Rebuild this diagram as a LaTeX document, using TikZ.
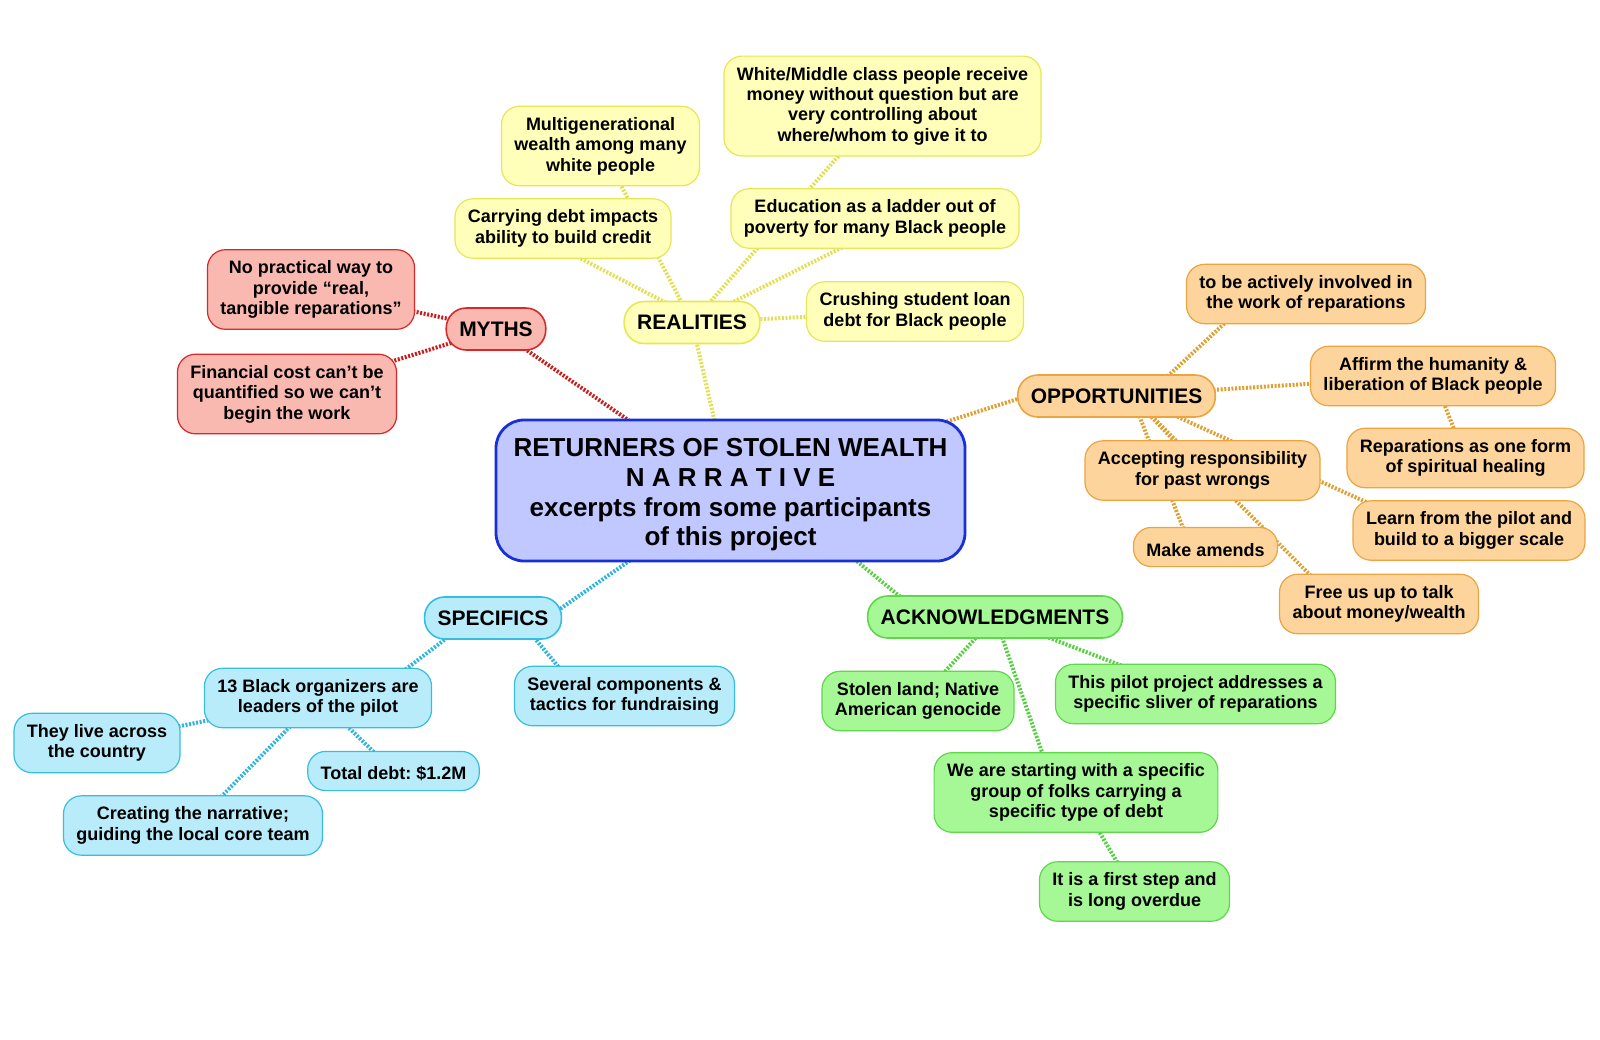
\documentclass[tikz,border=0pt]{standalone}
\usepackage{fontspec}
\setmainfont{Liberation Sans}
\usetikzlibrary{backgrounds}
\frenchspacing

\definecolor{cenfill}{HTML}{C0C8FF}
\definecolor{cenline}{HTML}{1830D8}
\definecolor{mythfill}{HTML}{F9B9B0}
\definecolor{mythline}{HTML}{D82828}
\definecolor{mythdot}{HTML}{C81E1E}
\definecolor{realfill}{HTML}{FFFFBA}
\definecolor{realline}{HTML}{E6E65A}
\definecolor{realdot}{HTML}{E2E050}
\definecolor{oppfill}{HTML}{FDD49C}
\definecolor{oppline}{HTML}{EBA440}
\definecolor{oppdot}{HTML}{E0A030}
\definecolor{ackfill}{HTML}{A6F896}
\definecolor{ackline}{HTML}{5ED84A}
\definecolor{ackdot}{HTML}{56D040}
\definecolor{specfill}{HTML}{B8ECFA}
\definecolor{specline}{HTML}{36BEE0}
\definecolor{specdot}{HTML}{2EB4DC}

\tikzset{
  idea/.style={draw, line width=1.2pt, rounded corners=18pt, align=center,
    inner xsep=13pt, inner ysep=0pt, minimum height={20.2*#1+19},
    font=\bfseries\fontsize{18}{20.4}\selectfont,
    execute at begin node={\rule{0pt}{19pt}}},
  idea/.default=2,
  topic/.style={draw, line width=1.6pt, rounded corners=20pt, inner xsep=13pt,
    inner ysep=0pt, minimum height=42, font=\bfseries\fontsize{21}{24}\selectfont},
  myth/.style={fill=mythfill, draw=mythline},
  real/.style={fill=realfill, draw=realline},
  opp/.style={fill=oppfill, draw=oppline},
  ack/.style={fill=ackfill, draw=ackline},
  spec/.style={fill=specfill, draw=specline},
  link/.style={line width=4pt, dash pattern=on 2pt off 1.6pt},
  mythlink/.style={link, draw=mythdot},
  reallink/.style={link, draw=realdot},
  opplink/.style={link, draw=oppdot},
  acklink/.style={link, draw=ackdot},
  speclink/.style={link, draw=specdot}
}

\begin{document}
\begin{tikzpicture}[x=1pt, y=-1pt]
  \useasboundingbox (0,0) rectangle (1600,1039);

  % centre
  \node[draw=cenline, fill=cenfill, line width=2.8pt, rounded corners=28pt,
    minimum width=469, minimum height=141, align=center,
    font=\bfseries\fontsize{26}{29.6}\selectfont] (cen) at (730.5,490.5)
    {\rule{0pt}{27pt}RETURNERS OF STOLEN WEALTH\\N A R R A T I V E\\excerpts from some participants\\of this project};

  % myths
  \node[topic, myth] (myths) at (496,329) {MYTHS};
  \node[idea=3, myth] (nopr) at (311,289.5) {No practical way to\\provide “real,\\tangible reparations”};
  \node[idea=3, myth] (fin) at (287,394) {Financial cost can’t be\\quantified so we can’t\\begin the work};

  % realities
  \node[topic, real] (rea) at (692,322.5) {REALITIES};
  \node[idea=2, real] (carry) at (563,228.5) {Carrying debt impacts\\ability to build credit};
  \node[idea=3, real] (multi) at (600.5,146) {Multigenerational\\wealth among many\\white people};
  \node[idea=4, real] (white) at (882.5,106) {White/Middle class people receive\\money without question but are\\very controlling about\\where/whom to give it to};
  \node[idea=2, real] (edu) at (875,218.5) {Education as a ladder out of\\poverty for many Black people};
  \node[idea=2, real] (crush) at (915,311.5) {Crushing student loan\\debt for Black people};

  % opportunities
  \node[topic, opp] (opps) at (1116.5,396) {OPPORTUNITIES};
  \node[idea=2, opp] (active) at (1306,294) {to be actively involved in\\the work of reparations};
  \node[idea=2, opp] (affirm) at (1433,376) {Affirm the humanity \&\\liberation of Black people};
  \node[idea=2, opp] (repar) at (1465.5,458) {Reparations as one form\\of spiritual healing};
  \node[idea=2, opp] (accept) at (1202.5,470.5) {Accepting responsibility\\for past wrongs};
  \node[idea=2, opp] (learn) at (1469,530.5) {Learn from the pilot and\\build to a bigger scale};
  \node[idea=1, opp] (amends) at (1205.5,547) {Make amends};
  \node[idea=2, opp] (free) at (1379,604) {Free us up to talk\\about money/wealth};

  % acknowledgments
  \node[topic, ack] (acks) at (995,617) {ACKNOWLEDGMENTS};
  \node[idea=2, ack] (stolen) at (918,701) {Stolen land; Native\\American genocide};
  \node[idea=2, ack] (pilot) at (1195.5,694) {This pilot project addresses a\\specific sliver of reparations};
  \node[idea=3, ack] (start) at (1076,792.5) {We are starting with a specific\\group of folks carrying a\\specific type of debt};
  \node[idea=2, ack] (first) at (1134.5,891.5) {It is a first step and\\is long overdue};

  % specifics
  \node[topic, spec] (specs) at (493,618) {SPECIFICS};
  \node[idea=2, spec] (organ) at (318,698) {13 Black organizers are\\leaders of the pilot};
  \node[idea=2, spec] (sev) at (624.5,696) {Several components \&\\tactics for fundraising};
  \node[idea=2, spec] (live) at (97,743) {They live across\\the country};
  \node[idea=1, spec] (debt) at (393.5,771) {Total debt: \$1.2M};
  \node[idea=2, spec] (narr) at (193,825.5) {Creating the narrative;\\guiding the local core team};

  % connectors
  \begin{scope}[on background layer]
    \draw[mythlink] (cen.center) -- (myths.center);
    \draw[mythlink] (myths.center) -- (nopr.center);
    \draw[mythlink] (myths.center) -- (fin.center);

    \draw[reallink] (cen.center) -- (rea.center);
    \draw[reallink] ([xshift=12pt]rea.center) -- ([xshift=-40pt]carry.center);
    \draw[reallink] (rea.center) -- (multi.center);
    \draw[reallink] (rea.center) -- (white.center);
    \draw[reallink] (rea.center) -- ([xshift=25pt]edu.center);
    \draw[reallink] (rea.center) -- (crush.center);

    \draw[opplink] (cen.center) -- ([xshift=10pt]opps.west);
    \draw[opplink] ([xshift=30pt]opps.center) -- ([xshift=-50pt]active.center);
    \draw[opplink] (opps.center) -- (affirm.center);
    \draw[opplink] (affirm.center) -- (repar.center);
    \draw[opplink] ([xshift=15pt]opps.center) -- (accept.center);
    \draw[opplink] ([xshift=15pt]opps.center) -- ([xshift=-15pt]amends.center);
    \draw[opplink] ([xshift=15pt]opps.center) -- ([xshift=-40pt]free.center);
    \draw[opplink] ([xshift=15pt]opps.center) -- ([xshift=-40pt]learn.center);

    \draw[acklink] ([xshift=40pt]cen.center) -- ([xshift=-70pt]acks.center);
    \draw[acklink] (acks.center) -- (stolen.center);
    \draw[acklink] (acks.center) -- (pilot.center);
    \draw[acklink] (acks.center) -- ([xshift=-20pt]start.center);
    \draw[acklink] (start.center) -- (first.center);

    \draw[speclink] (cen.center) -- ([xshift=54pt]specs.center);
    \draw[speclink] ([xshift=-20pt]specs.center) -- ([xshift=50pt]organ.center);
    \draw[speclink] ([xshift=25pt]specs.center) -- ([xshift=-42pt]sev.center);
    \draw[speclink] (organ.center) -- (live.center);
    \draw[speclink] (organ.center) -- (debt.center);
    \draw[speclink] (organ.center) -- (narr.center);
  \end{scope}
\end{tikzpicture}
\end{document}
